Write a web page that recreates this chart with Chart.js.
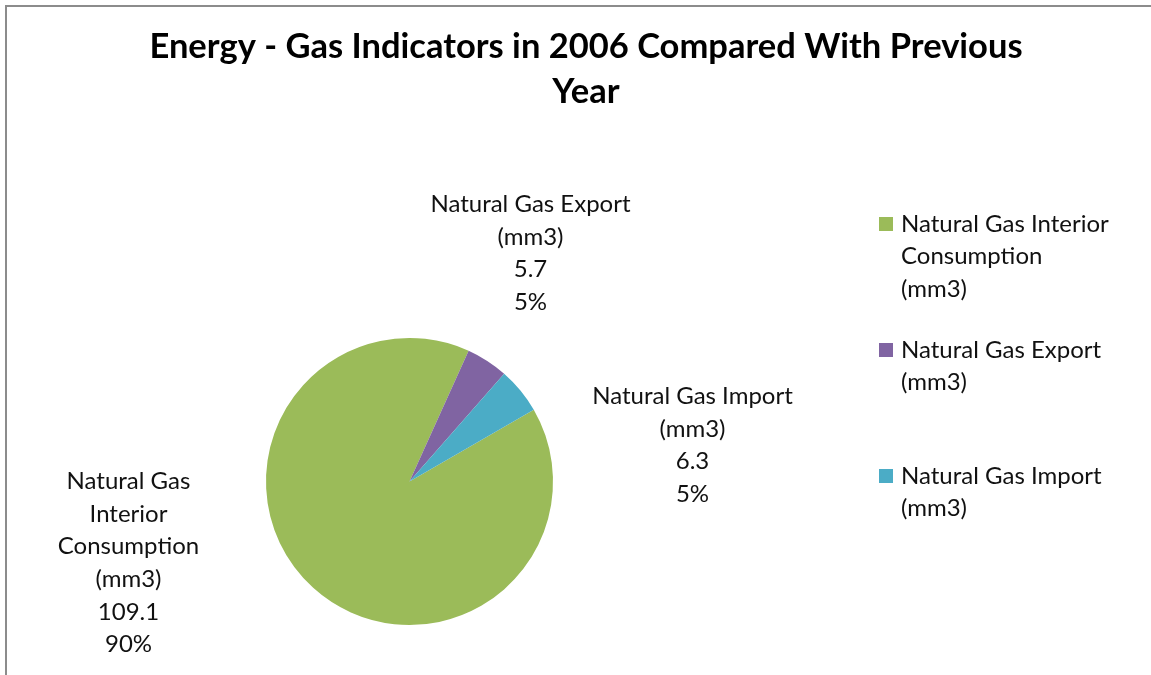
<!DOCTYPE html>
<html>
<head>
<meta charset="utf-8">
<script src="https://cdn.jsdelivr.net/npm/chart.js@4"></script>
<style>
  html, body { margin: 0; padding: 0; background: #fff; }
  #wrap { width: 1151px; height: 675px; }
</style>
</head>
<body>
<div id="wrap"><canvas id="pieChart" width="1151" height="675"></canvas></div>
<script>
var titleLines = ['Energy - Gas Indicators in 2006 Compared With Previous', 'Year'];
var categories = ['Natural Gas Interior Consumption (mm3)', 'Natural Gas Export (mm3)', 'Natural Gas Import (mm3)'];
var legendLines = [['Natural Gas Interior', 'Consumption', '(mm3)'], ['Natural Gas Export', '(mm3)'], ['Natural Gas Import', '(mm3)']];
var labelLines = [['Natural Gas', 'Interior', 'Consumption', '(mm3)'], ['Natural Gas Export', '(mm3)'], ['Natural Gas Import', '(mm3)']];
var values = [109.1, 5.7, 6.3];
var colors = ['#9BBB59', '#8064A2', '#4BACC6'];

var FONT = 'Lato, "Open Sans", sans-serif';
var LINE = 32.6;

// where each data label's first line sits, relative to the pie centre
var labelOffsets = [[-281, 0], [121, -277], [283, -85]];

var extras = {
    id: 'extras',
    afterDraw: function (chart) {
        var ctx = chart.ctx;
        ctx.save();

        // frame
        ctx.fillStyle = '#8c8c8c';
        ctx.fillRect(5, 5, 1146, 2);
        ctx.fillRect(5, 5, 2, 670);

        // title
        ctx.fillStyle = '#000';
        ctx.textAlign = 'center';
        ctx.textBaseline = 'middle';
        ctx.font = 'bold 34.5px ' + FONT;
        ctx.fillText(titleLines[0], 586, 47);
        ctx.fillText(titleLines[1], 586, 92);

        // data labels
        var meta = chart.getDatasetMeta(0);
        var arc = meta.data[0];
        var total = values.reduce(function (a, b) { return a + b; }, 0);
        ctx.font = '24px ' + FONT;
        ctx.fillStyle = '#111';
        values.forEach(function (v, i) {
            var lines = labelLines[i].concat([String(v), Math.round(v / total * 100) + '%']);
            var x = arc.x + labelOffsets[i][0];
            var y = arc.y + labelOffsets[i][1];
            lines.forEach(function (t, k) {
                ctx.fillText(t, x, y + k * LINE);
            });
        });

        // legend
        var ly = [224, 350, 476];
        ctx.textAlign = 'left';
        legendLines.forEach(function (lines, i) {
            ctx.fillStyle = colors[i];
            ctx.fillRect(879, ly[i] - 7, 14, 14);
            ctx.fillStyle = '#111';
            lines.forEach(function (t, k) {
                ctx.fillText(t, 901, ly[i] + k * 32.5);
            });
        });
        ctx.restore();
    }
};

var ctx = document.getElementById('pieChart').getContext('2d');
var pieChart = new Chart(ctx, {
    type: 'pie',
    data: {
        labels: categories,
        datasets: [{
            data: values,
            backgroundColor: colors,
            borderWidth: 0
        }]
    },
    options: {
        responsive: false,
        animation: false,
        rotation: 60,
        layout: {
            padding: { left: 266, right: 598, top: 338, bottom: 50 }
        },
        plugins: {
            legend: { display: false },
            title: { display: false },
            tooltip: { enabled: false }
        }
    },
    plugins: [extras]
});
</script>
</body>
</html>
